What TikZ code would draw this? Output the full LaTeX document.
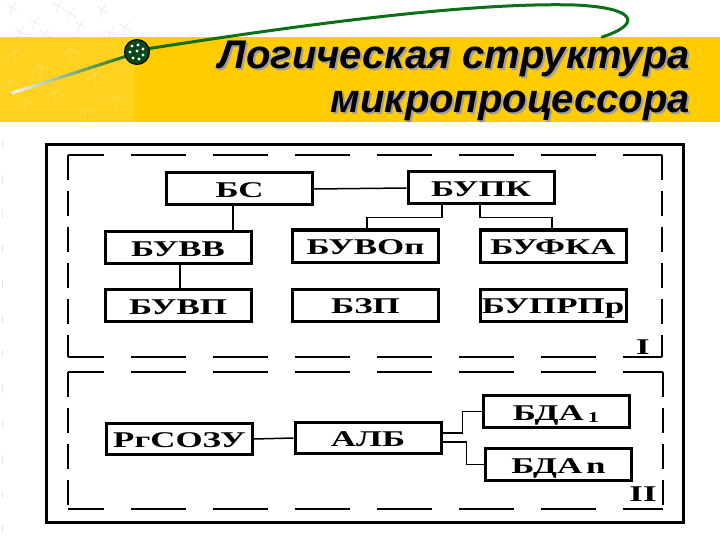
\documentclass[tikz,border=0pt]{standalone}
\usepackage{fontspec}
\newfontfamily\tfont{Liberation Sans Bold Italic}
\newfontfamily\bfont[FakeStretch=1.55]{Liberation Serif Bold}
\usetikzlibrary{calc}
\definecolor{band}{RGB}{255,204,0}
\definecolor{cgreen}{RGB}{12,112,22}
\definecolor{ballg}{RGB}{10,70,25}
\colorlet{gstart}{gray!12!white}
\colorlet{gend}{green!40!black!80!gray}
\newcommand{\shadowed}[1]{\rlap{\hspace{2pt}\raisebox{-2pt}{\textcolor{gray!75}{#1}}}#1}
\begin{document}
\begin{tikzpicture}[x=1pt,y=-1pt,
  blk/.style={draw, line width=3pt, minimum width=146pt, minimum height=32pt,
    inner sep=0pt, text height=17pt, text depth=0pt,
    font=\bfont\fontsize{22.5}{24}\selectfont},
  con/.style={line width=1.5pt},
  hd/.style={line width=1.5pt, dash pattern=on 55pt off 27pt, dash phase=19pt},
  vd/.style={line width=1.5pt, dash pattern=on 25pt off 11pt},
  ttl/.style={anchor=base east, inner sep=0pt, font=\tfont\fontsize{40}{45}\selectfont},
  seed/.style={draw=gray!18, line width=0.6pt},
  pale/.style={draw=white!30!band, line width=1pt}]
\useasboundingbox (0,0) rectangle (720,540);
\fill[white] (0,0) rectangle (720,540);
% faint pattern top-left
\foreach \x/\y in {12/8, 35/22, 58/6, 80/25, 102/10, 125/28, 20/32, 70/14, 110/33, 45/34}{
  \draw[seed] (\x,\y) -- ++(4,-6) (\x,\y) -- ++(-5,-4) (\x,\y) -- ++(6,3) (\x,\y) -- ++(-2,7);
}
% yellow band
\fill[band] (0,37) rectangle (720,122);
\fill[white, opacity=0.12] (0,37) rectangle (135,122);
\foreach \x/\y in {15/50, 40/65, 70/48, 95/72, 120/55, 25/100, 55/90, 85/108, 115/95, 10/80}{
  \draw[pale] (\x,\y) -- ++(0,14) (\x,\y) -- ++(10,6) (\x,\y) -- ++(-8,8);
}
% faint marks along the left edge
\foreach \y in {140,175,210,245,280,315,350,385,420,455,490,525}{
  \draw[gray!20, line width=0.8pt] (2,\y) -- (2,\y+8);
}
% gradient tail of the curve
\foreach \i in {0,...,19}{
  \pgfmathtruncatemacro\p{5*\i}
  \draw[line width=3pt, color=gend!\p!gstart]
    ($(12,93)!\i/20!(130,55)$) -- ($(12,93)!\i/20+0.06!(130,55)$);
}
% green curve
\draw[cgreen, line width=3pt, line cap=round]
  (146,49) .. controls (300,25) and (470,2) .. (575,5)
  .. controls (640,8) and (640,25) .. (602,37);
% ball
\fill[ballg, draw=black, line width=1pt] (137,52) circle (12.5);
\foreach \dx/\dy in {-5/-6, 1/-7, 6/-3, -7/0, 0/-1, 6/3, -4/6, 2/7}{
  \fill[white] ($(137,52)+(\dx,\dy)$) circle (1.6);
}
% title with shadow
\node[ttl] (t1) at (690,69) {\shadowed{Логическая структура}};
\node[ttl] (t2) at (690,113) {\shadowed{микропроцессора}};
% outer frame
\draw[line width=3pt] (46.5,144.5) rectangle (683.5,522.5);
% dashed frame I
\draw[hd] (68,155) -- (662,155);
\draw[hd] (68,357) -- (662,357);
\draw[vd] (68,155) -- (68,357);
\draw[vd] (662,155) -- (662,357);
% dashed frame II
\draw[hd] (68,372) -- (663,372);
\draw[hd] (68,509) -- (663,509);
\draw[vd] (68,372) -- (68,509);
\draw[vd] (663,372) -- (663,509);
% blocks of part I
\node[blk] (bs)    at (239.5,189) {БС};
\node[blk] (bupk)  at (481,188)   {БУПК};
\node[blk] (buvv)  at (178,247.5) {БУВВ};
\node[blk] (buvop) at (365.5,246) {БУВОп};
\node[blk] (bufka) at (553,246)   {БУФКА};
\node[blk] (buvp)  at (178,305.5) {БУВП};
\node[blk] (bzp)   at (365.5,305) {БЗП};
\node[blk] (buprp) at (553,305)   {БУПРПр};
\node[font=\bfont\fontsize{22.5}{24}\selectfont, inner sep=0pt] (lI) at (643,347) {I};
% blocks of part II
\node[blk, minimum height=31pt] (rg)   at (179.5,439) {РгСОЗУ};
\node[blk, minimum height=31pt] (alb)  at (368,438)   {АЛБ};
\node[blk] (bda1) at (556,411.5) {БДА\,\raisebox{-2pt}{\fontsize{15}{15}\selectfont 1}};
\node[blk] (bdan) at (558.5,464.5) {БДА\,n};
\node[font=\bfont\fontsize{22.5}{24}\selectfont, inner sep=0pt] (lII) at (643,494) {II};
% connectors part I
\draw[con] (bs.east) -- (bupk.west);
\draw[con] ([xshift=-6.5pt]bs.south) -- ([xshift=-6.5pt]bs.south |- buvv.north);
\draw[con] ([xshift=2pt]buvv.south) -- ([xshift=2pt]buvv.south |- buvp.north);
\draw[con] ([xshift=-39pt]bupk.south) -- ++(0,12) -| ([xshift=1.5pt]buvop.north);
\draw[con] ([xshift=-1pt]bupk.south) -- ++(0,12) -| ([xshift=-1pt]bufka.north);
% connectors part II
\draw[con] (rg.east) -- (alb.west);
\draw[con] ([yshift=5pt]alb.east) -- ++(20,0) |- (bda1.west);
\draw[con] ([yshift=-4pt]alb.east) -- ++(24,0) |- (bdan.west);
\end{tikzpicture}
\end{document}
